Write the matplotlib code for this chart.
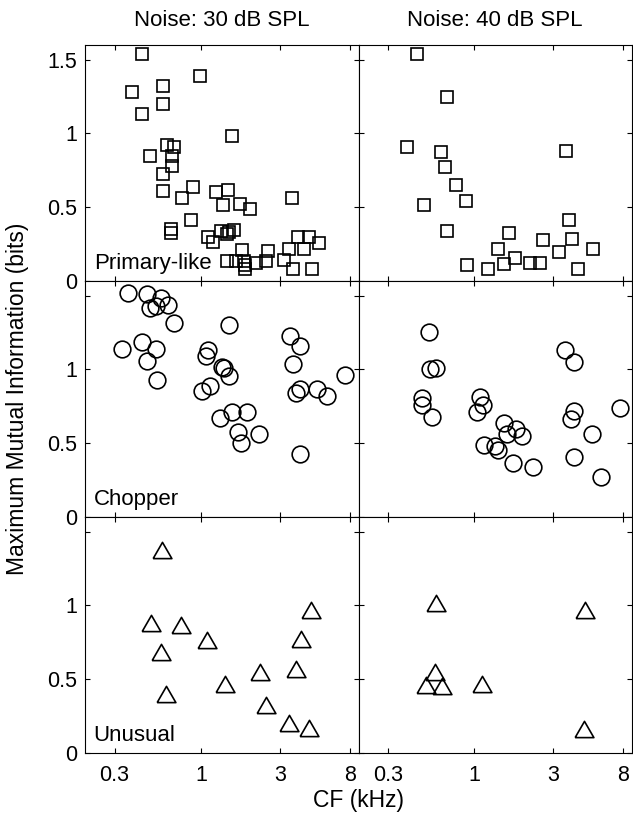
"""
Max mutual information vs CF, three unit types x two noise levels.
"""
import matplotlib
matplotlib.use("Agg")
import matplotlib.pyplot as plt
import numpy as np

plt.rcParams["font.family"] = ["Liberation Sans", "DejaVu Sans"]

NOISE_TITLES = ["Noise: 30 dB SPL", "Noise: 40 dB SPL"]
UNIT_TYPES   = ["Primary-like", "Chopper", "Unusual"]
X_TICKS      = [0.3, 1, 3, 8]
X_TICKLABELS = ["0.3", "1", "3", "8"]

# primary-like, 30 dB
pl30_cf = [0.44, 0.99, 0.59, 0.385, 0.59, 0.44, 1.55, 0.62,
           0.69, 0.49, 0.67, 0.67, 0.59, 0.59, 0.89, 0.77,
           1.24, 1.46, 1.36, 1.72, 1.98, 3.56, 0.87, 0.66,
           0.66, 1.11, 1.19, 1.32, 1.48, 1.58, 1.43, 3.85,
           4.48, 5.15, 3.40, 4.22, 2.54, 1.78, 1.44, 1.62,
           1.82, 1.86, 1.84, 2.14, 2.46, 3.20, 3.60, 4.70]
pl30_mi = [1.54, 1.39, 1.32, 1.28, 1.20, 1.13, 0.98, 0.925,
           0.91, 0.845, 0.85, 0.78, 0.725, 0.61, 0.64, 0.56,
           0.60, 0.62, 0.515, 0.52, 0.49, 0.56, 0.415, 0.35,
           0.325, 0.30, 0.265, 0.34, 0.335, 0.345, 0.32, 0.30,
           0.295, 0.255, 0.215, 0.215, 0.205, 0.21, 0.135, 0.135,
           0.135, 0.08, 0.105, 0.125, 0.135, 0.14, 0.08, 0.08]

# primary-like, 40 dB
pl40_cf = [0.453, 0.681, 0.394, 0.635, 3.61, 0.671, 0.779, 0.895,
           0.497, 0.681, 3.73, 1.62, 2.61, 3.90, 1.39, 1.76,
           3.27, 5.23, 0.907, 1.21, 1.51, 2.17, 2.49, 4.28]
pl40_mi = [1.54, 1.25, 0.91, 0.873, 0.88, 0.771, 0.651, 0.544,
           0.515, 0.34, 0.413, 0.322, 0.279, 0.288, 0.22, 0.159,
           0.197, 0.22, 0.107, 0.084, 0.113, 0.125, 0.125, 0.084]

# chopper, 30 dB
ch30_cf = [0.362, 0.474, 0.576, 0.492, 0.533, 0.635, 0.687, 1.475,
           0.335, 0.442, 0.533, 0.47, 0.545, 1.10, 1.072, 1.345,
           1.38, 1.475, 1.02, 1.133, 1.30, 1.545, 1.905, 1.67,
           2.24, 1.75, 3.48, 3.96, 3.59, 7.47, 4.00, 3.78,
           5.03, 5.78, 3.96]
ch30_mi = [1.517, 1.51, 1.488, 1.415, 1.43, 1.435, 1.318, 1.30,
           1.136, 1.186, 1.14, 1.057, 0.932, 1.13, 1.09, 1.018,
           1.01, 0.954, 0.857, 0.886, 0.671, 0.71, 0.71, 0.573,
           0.565, 0.501, 1.23, 1.16, 1.034, 0.966, 0.869, 0.841,
           0.869, 0.823, 0.426]

# chopper, 40 dB
ch40_cf = [0.537, 0.54, 0.59, 0.486, 0.486, 0.558, 1.09, 1.133,
           1.043, 1.51, 1.79, 1.58, 1.95, 1.154, 1.33, 1.39,
           1.71, 2.27, 3.56, 4.03, 4.03, 3.85, 5.15, 4.03,
           5.87, 7.64]
ch40_mi = [1.254, 1.0, 1.01, 0.807, 0.757, 0.676, 0.814, 0.757,
           0.712, 0.637, 0.599, 0.565, 0.546, 0.485, 0.478, 0.451,
           0.365, 0.338, 1.131, 1.052, 0.716, 0.665, 0.563, 0.406,
           0.274, 0.739]

# unusual, 30 dB
un30_cf = [0.579, 0.501, 0.754, 0.571, 1.09, 0.618, 1.396, 2.29,
           2.49, 3.40, 4.53, 3.76, 4.03, 4.63]
un30_mi = [1.379, 0.878, 0.866, 0.687, 0.767, 0.403, 0.467, 0.546,
           0.324, 0.20, 0.172, 0.569, 0.773, 0.971]

# unusual, 40 dB
un40_cf = [0.592, 4.70, 0.584, 0.513, 0.641, 1.117, 4.63]
un40_mi = [1.018, 0.968, 0.551, 0.463, 0.451, 0.471, 0.165]

# equilateral triangle, centred on its bounding box (matlab-ish)
tri = [(-1, -0.866), (1, -0.866), (0, 0.866), (-1, -0.866)]
MARKERS = [("s", 8.0), ("o", 12.0), (tri, 13.5)]

DATA = [[(pl30_cf, pl30_mi), (pl40_cf, pl40_mi)],
        [(ch30_cf, ch30_mi), (ch40_cf, ch40_mi)],
        [(un30_cf, un30_mi), (un40_cf, un40_mi)]]

fig, axes = plt.subplots(3, 2, figsize=(6.33, 8.27), dpi=100)
fig.subplots_adjust(left=0.135, right=0.998, top=0.9456, bottom=0.0895,
                    hspace=0, wspace=0)

for r in range(3):
    mk, ms = MARKERS[r]
    for c in range(2):
        ax = axes[r, c]
        cf, mi = DATA[r][c]
        ax.plot(cf, mi, linestyle="none", marker=mk, markersize=ms,
                markerfacecolor="none", markeredgecolor="black",
                markeredgewidth=1.2)
        ax.set_xscale("log")
        ax.set_xlim(0.2, 9)
        ax.set_ylim(0, 1.6)
        ax.set_xticks(X_TICKS)
        ax.set_xticklabels(X_TICKLABELS)
        ax.xaxis.set_minor_locator(matplotlib.ticker.NullLocator())
        ax.set_yticks([0, 0.5, 1, 1.5])
        ax.tick_params(direction="in", length=3.5, width=0.8,
                       top=True, right=True, labelsize=15.5, pad=6)
        ax.tick_params(axis="x", pad=9)
        for s in ax.spines.values():
            s.set_linewidth(0.8)
        if c == 0:
            labels = ["0", "0.5", "1", "1.5"] if r == 0 else ["0", "0.5", "1", ""]
            ax.set_yticklabels(labels)
            ax.text(0.03, 0.05, UNIT_TYPES[r], transform=ax.transAxes,
                    fontsize=16, ha="left", va="baseline")
        else:
            ax.tick_params(labelleft=False)
        if r == 0:
            ax.set_title(NOISE_TITLES[c], fontsize=16, pad=14)
        if r < 2:
            ax.tick_params(labelbottom=False)

fig.text(0.028, (0.9456 + 0.0895) / 2, "Maximum Mutual Information (bits)",
         rotation=90, ha="center", va="center", fontsize=16.5)
fig.text((0.135 + 0.998) / 2, 0.032, "CF (kHz)", ha="center", va="center",
         fontsize=16.5)

fig.savefig("out.png", dpi=100)
